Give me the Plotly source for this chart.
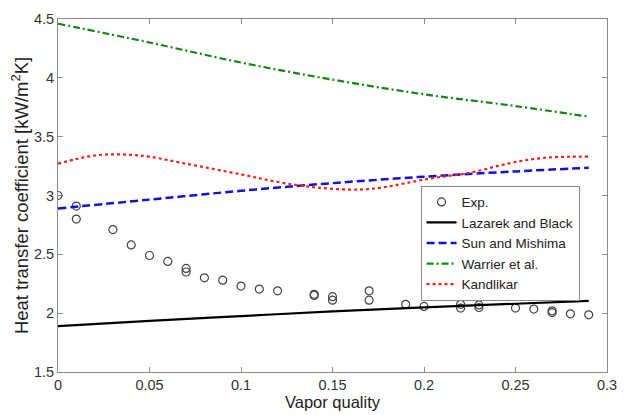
import plotly.graph_objects as go

# Experimental data
exp_x = [0, 0.01, 0.01, 0.03, 0.04, 0.05, 0.06, 0.07, 0.07, 0.08, 0.09, 0.10, 0.11, 0.12,
         0.14, 0.14, 0.15, 0.15, 0.17, 0.17, 0.19, 0.20, 0.22, 0.22, 0.23, 0.23,
         0.25, 0.26, 0.27, 0.27, 0.28, 0.29]
exp_y = [3.00, 2.91, 2.80, 2.71, 2.58, 2.49, 2.44, 2.38, 2.35, 2.30, 2.28, 2.23, 2.205, 2.19,
         2.16, 2.15, 2.14, 2.11, 2.19, 2.11, 2.075, 2.057, 2.075, 2.043, 2.07, 2.048,
         2.043, 2.035, 2.02, 2.005, 1.994, 1.986]

# Correlations
lb_x = [0, 0.05, 0.10, 0.15, 0.20, 0.25, 0.29]
lb_y = [1.89, 1.935, 1.975, 2.015, 2.05, 2.08, 2.105]

sm_x = [0, 0.05, 0.10, 0.15, 0.20, 0.25, 0.29]
sm_y = [2.89, 2.965, 3.04, 3.105, 3.16, 3.205, 3.235]

wa_x = [0, 0.05, 0.10, 0.15, 0.20, 0.25, 0.29]
wa_y = [4.46, 4.30, 4.13, 3.985, 3.86, 3.76, 3.67]

ka_x = [0, 0.01, 0.02, 0.03, 0.04, 0.05, 0.07, 0.10, 0.12, 0.14, 0.16, 0.17, 0.18, 0.19,
        0.20, 0.21, 0.22, 0.23, 0.24, 0.25, 0.26, 0.27, 0.28, 0.29]
ka_y = [3.27, 3.31, 3.34, 3.35, 3.345, 3.33, 3.27, 3.18, 3.115, 3.07, 3.05, 3.055, 3.075, 3.105,
        3.135, 3.16, 3.18, 3.21, 3.25, 3.285, 3.31, 3.325, 3.33, 3.33]

xticks = [0, 0.05, 0.1, 0.15, 0.2, 0.25, 0.3]
xtick_labels = ["0", "0.05", "0.1", "0.15", "0.2", "0.25", "0.3"]
yticks = [1.5, 2, 2.5, 3, 3.5, 4, 4.5]
ytick_labels = ["1.5", "2", "2.5", "3", "3.5", "4", "4.5"]

FONT = "Liberation Sans, Arial, sans-serif"

fig = go.Figure()
fig.add_trace(go.Scatter(x=exp_x, y=exp_y, mode="markers", name="Exp.",
                         marker=dict(symbol="circle-open", size=8, color="#444444",
                                     line=dict(width=1.2))))
fig.add_trace(go.Scatter(x=lb_x, y=lb_y, mode="lines", name="Lazarek and Black",
                         line=dict(color="black", width=2.2, shape="spline")))
fig.add_trace(go.Scatter(x=sm_x, y=sm_y, mode="lines", name="Sun and Mishima",
                         line=dict(color="#1010e0", width=2.5, dash="8px,4px", shape="spline")))
fig.add_trace(go.Scatter(x=wa_x, y=wa_y, mode="lines", name="Warrier et al.",
                         line=dict(color="#118811", width=2.2, dash="7px,3px,2px,3px",
                                   shape="spline")))
fig.add_trace(go.Scatter(x=ka_x, y=ka_y, mode="lines", name="Kandlikar",
                         line=dict(color="#ff1a1a", width=2.2, dash="dot", shape="spline")))

axis_common = dict(showgrid=False, zeroline=False, showline=True, linecolor="#8a8a8a",
                   linewidth=1, mirror="ticks", ticks="inside", ticklen=5,
                   tickcolor="#8a8a8a",
                   tickfont=dict(family=FONT, size=14.5, color="#333333"))

fig.update_xaxes(range=[0, 0.3], tickvals=xticks, ticktext=xtick_labels,
                 title=dict(text="Vapor quality",
                            font=dict(family=FONT, size=16.5, color="#222222"), standoff=4),
                 **axis_common)
fig.update_yaxes(range=[1.5, 4.5], tickvals=yticks, ticktext=ytick_labels,
                 title=dict(text="Heat transfer coefficient [kW/m<sup>2</sup>K]",
                            font=dict(family=FONT, size=18.5, color="#222222"),
                            standoff=0),
                 **axis_common)

fig.update_layout(
    width=624, height=407,
    margin=dict(l=50, r=25, t=11, b=43, autoexpand=False),
    plot_bgcolor="white", paper_bgcolor="white",
    font=dict(family=FONT, color="#222222"),
    legend=dict(x=0.95, y=0.528, xanchor="right", yanchor="top",
                bgcolor="white", bordercolor="#8a8a8a", borderwidth=1,
                font=dict(family=FONT, size=13.5, color="#222222"),
                itemwidth=30, tracegroupgap=0),
    showlegend=True,
)

fig.write_html("out.html")
